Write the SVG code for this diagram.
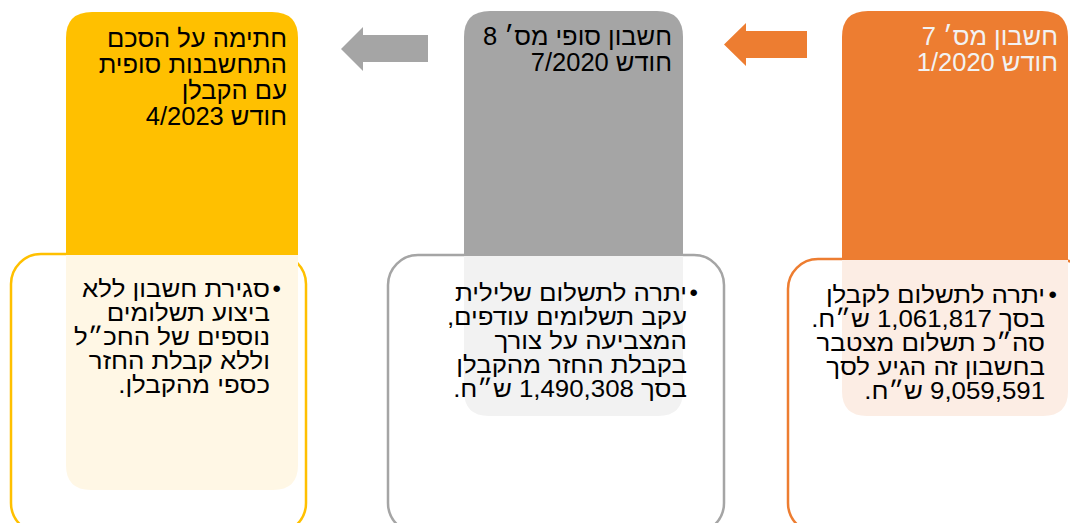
<svg xmlns="http://www.w3.org/2000/svg" width="1070" height="523" viewBox="0 0 1070 523">
<style>
text{font-family:"Liberation Sans","DejaVu Sans",sans-serif;direction:rtl;unicode-bidi:embed;text-anchor:start}
.h{font-size:25.5px}
.b{font-size:23.5px;fill:#000}
.bu{font-size:24px;fill:#000}
.outline{fill:#fff;stroke-width:2.5}
</style>
<g id="connectors">
<polygon points="807,31 746,31 746,23 724,44.5 746,66 746,58 807,58" fill="#ED7D31"/>
<polygon points="428,35 363,35 363,27 341,49 363,71 363,62 428,62" fill="#A5A5A5"/>
</g>
<g id="node-orange">
<rect class="outline" x="788" y="259" width="300" height="274" rx="30" stroke="#ED7D31"/>
<path d="M842,260 H1068 V391 Q1068,416 1043,416 H867 Q842,416 842,391 Z" fill="#FCEDE4"/>
<path d="M842,260 V37 Q842,11 868,11 H1042 Q1068,11 1068,37 V260 Z" fill="#ED7D31"/>
<text class="h" x="1058" y="45" fill="#F2F2F2">חשבון מס׳ 7</text>
<text class="h" x="1058" y="71" fill="#F2F2F2">חודש 1/2020</text>
<text class="bu" x="1057" y="303">•</text>
<g transform="translate(1045,0) scale(1.1,1)">
<text class="b" x="0" y="303">יתרה לתשלום לקבלן</text>
<text class="b" x="0" y="327">בסך 1,061,817 ש״ח.</text>
<text class="b" x="0" y="351">סה״כ תשלום מצטבר</text>
<text class="b" x="0" y="375">בחשבון זה הגיע לסך</text>
<text class="b" x="0" y="399">9,059,591 ש״ח.</text>
</g>
</g>
<g id="node-gray">
<rect class="outline" x="388" y="255" width="336" height="278" rx="30" stroke="#A5A5A5"/>
<path d="M464,256 H683 V391 Q683,416 658,416 H489 Q464,416 464,391 Z" fill="#F2F2F2"/>
<path d="M464,256 V37 Q464,11 490,11 H657 Q683,11 683,37 V256 Z" fill="#A5A5A5"/>
<text class="h" x="672" y="45" fill="#000">חשבון סופי מס׳ 8</text>
<text class="h" x="672" y="71" fill="#000">חודש 7/2020</text>
<text class="bu" x="698" y="301">•</text>
<g transform="translate(687,0) scale(1.1,1)">
<text class="b" x="0" y="301">יתרה לתשלום שלילית</text>
<text class="b" x="0" y="325">עקב תשלומים עודפים,</text>
<text class="b" x="0" y="349">המצביעה על צורך</text>
<text class="b" x="0" y="373">בקבלת החזר מהקבלן</text>
<text class="b" x="0" y="397">בסך 1,490,308 ש״ח.</text>
</g>
</g>
<g id="node-yellow">
<rect class="outline" x="11" y="254" width="295" height="279" rx="30" stroke="#FFC000"/>
<path d="M66,255 H298 V465 Q298,490 273,490 H91 Q66,490 66,465 Z" fill="#FFF7E5"/>
<path d="M66,255 V38 Q66,12 92,12 H272 Q298,12 298,38 V255 Z" fill="#FFC000"/>
<text class="h" x="287" y="47" fill="#000">חתימה על הסכם</text>
<text class="h" x="287" y="73" fill="#000">התחשבנות סופית</text>
<text class="h" x="287" y="99" fill="#000">עם הקבלן</text>
<text class="h" x="287" y="125" fill="#000">חודש 4/2023</text>
<text class="bu" x="281" y="297">•</text>
<g transform="translate(270,0) scale(1.1,1)">
<text class="b" x="0" y="297">סגירת חשבון ללא</text>
<text class="b" x="0" y="321">ביצוע תשלומים</text>
<text class="b" x="0" y="345">נוספים של החכ״ל</text>
<text class="b" x="0" y="369">וללא קבלת החזר</text>
<text class="b" x="0" y="393">כספי מהקבלן.</text>
</g>
</g>
</svg>
